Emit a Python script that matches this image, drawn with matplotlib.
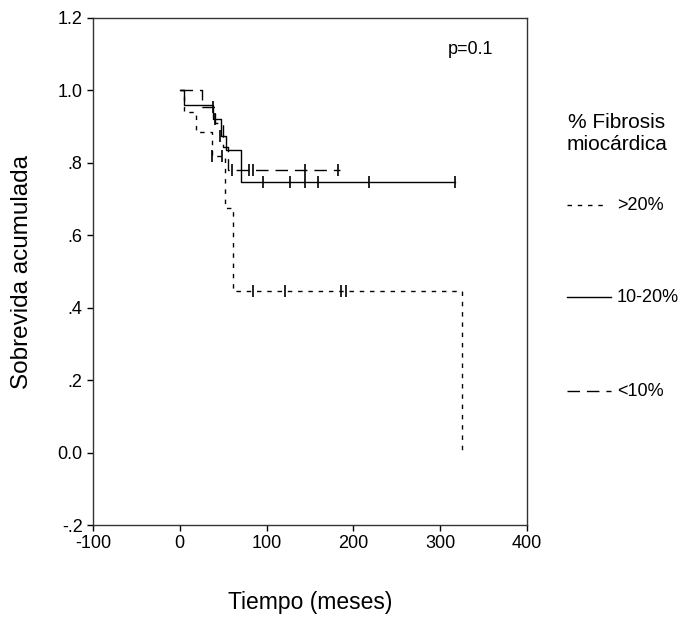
import matplotlib.pyplot as plt
import numpy as np
from matplotlib.lines import Line2D

plt.rcParams['font.family'] = ['Liberation Sans', 'DejaVu Sans']

# Kaplan-Meier steps (time in months, cumulative survival)
t_high = [0, 5, 19, 37, 52, 61, 325]
s_high = [1.0, 0.94, 0.885, 0.82, 0.675, 0.447, 0.0]
cens_t_high = [37, 49, 84, 121, 186, 192]
cens_s_high = [0.82, 0.82, 0.447, 0.447, 0.447, 0.447]

t_mid = [0, 5, 38, 47, 53, 71, 317]
s_mid = [1.0, 0.96, 0.92, 0.875, 0.835, 0.747, 0.747]
cens_t_mid = [40, 46, 96, 127, 144, 159, 218, 317]
cens_s_mid = [0.92, 0.875, 0.747, 0.747, 0.747, 0.747, 0.747, 0.747]

t_low = [0, 25, 40, 50, 56, 184]
s_low = [1.0, 0.955, 0.91, 0.845, 0.78, 0.78]
cens_t_low = [38, 60, 80, 84, 144, 182]
cens_s_low = [0.955, 0.78, 0.78, 0.78, 0.78, 0.78]

x_ticks = [-100, 0, 100, 200, 300, 400]
y_ticks = [-0.2, 0.0, 0.2, 0.4, 0.6, 0.8, 1.0, 1.2]
y_labels = ['-.2', '0.0', '.2', '.4', '.6', '.8', '1.0', '1.2']

W, H = 686, 618
fig = plt.figure(figsize=(W / 100, H / 100), dpi=100)
ax = fig.add_axes([93 / W, 1 - 525 / H, 434 / W, 507 / H])

dotted = (0, (3.2, 4.2))
dashed = (0, (9, 5))
lw = 1.0

ax.step(t_high, s_high, where='post', color='black', lw=lw, linestyle=dotted)
ax.plot(cens_t_high, cens_s_high, '|', color='black', ms=8, mew=1.2)
ax.step(t_mid, s_mid, where='post', color='black', lw=lw, linestyle='solid')
ax.plot(cens_t_mid, cens_s_mid, '|', color='black', ms=8, mew=1.2)
ax.step(t_low, s_low, where='post', color='black', lw=lw, linestyle=dashed)
ax.plot(cens_t_low, cens_s_low, '|', color='black', ms=8, mew=1.2)

ax.set_xlim(-100, 400)
ax.set_ylim(-0.2, 1.2)
ax.set_xticks(x_ticks)
ax.set_xticklabels([str(v) for v in x_ticks])
ax.set_yticks(y_ticks)
ax.set_yticklabels(y_labels)
ax.tick_params(direction='out', length=4, width=1, labelsize=13, colors='black')
for sp in ax.spines.values():
    sp.set_linewidth(1)
    sp.set_color('#333333')

ax.text(0.869, 0.937, 'p=0.1', transform=ax.transAxes, fontsize=13,
        ha='center', va='center')


def fx(px):
    return px / W


def fy(py):
    return 1 - py / H


# axis labels placed in figure pixels
fig.text(fx(310), fy(603), 'Tiempo (meses)', fontsize=16.5,
         ha='center', va='center')
fig.text(fx(22), fy(272), 'Sobrevida acumulada', fontsize=17.5,
         ha='center', va='center', rotation=90)

fig.text(fx(617), fy(134), '% Fibrosis\nmiocárdica', fontsize=15,
         ha='center', va='center', linespacing=1.2)
legend_items = [('>20%', dotted, 205, 603), ('10-20%', 'solid', 297, 611),
                ('<10%', dashed, 391, 611)]
for label, ls, py, x_end in legend_items:
    fig.add_artist(Line2D([fx(567), fx(x_end)], [fy(py), fy(py)],
                          transform=fig.transFigure, color='black', lw=lw,
                          linestyle=ls))
    fig.text(fx(617), fy(py), label, fontsize=13, ha='left', va='center')

fig.savefig('out.png', dpi=100)
